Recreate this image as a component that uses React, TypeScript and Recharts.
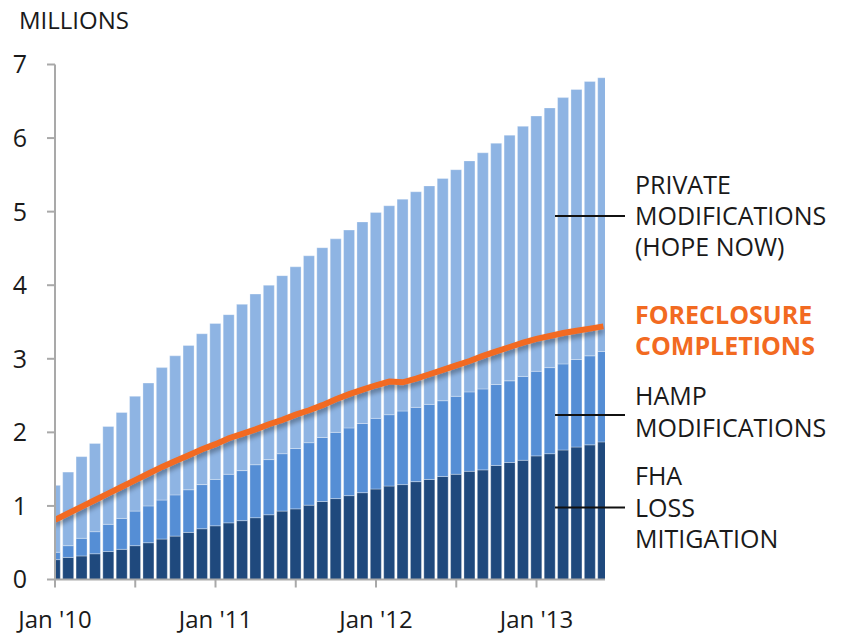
import React from "react";
import { ComposedChart, Bar, Line, XAxis, YAxis } from "recharts";

// monthly, Jan 2010 .. Jun 2013
const months = [
  "Jan '10", "Feb '10", "Mar '10", "Apr '10", "May '10", "Jun '10", "Jul '10", "Aug '10", "Sep '10", "Oct '10", "Nov '10", "Dec '10",
  "Jan '11", "Feb '11", "Mar '11", "Apr '11", "May '11", "Jun '11", "Jul '11", "Aug '11", "Sep '11", "Oct '11", "Nov '11", "Dec '11",
  "Jan '12", "Feb '12", "Mar '12", "Apr '12", "May '12", "Jun '12", "Jul '12", "Aug '12", "Sep '12", "Oct '12", "Nov '12", "Dec '12",
  "Jan '13", "Feb '13", "Mar '13", "Apr '13", "May '13", "Jun '13",
];

const fha = [
  0.27, 0.3, 0.32, 0.35, 0.38, 0.41, 0.46, 0.5, 0.55, 0.59, 0.64, 0.69,
  0.73, 0.77, 0.8, 0.84, 0.88, 0.93, 0.96, 1.01, 1.06, 1.1, 1.14, 1.18,
  1.23, 1.27, 1.29, 1.33, 1.36, 1.4, 1.43, 1.47, 1.49, 1.55, 1.59, 1.62,
  1.68, 1.71, 1.76, 1.8, 1.83, 1.87,
];

const hamp = [
  0.1, 0.16, 0.24, 0.3, 0.37, 0.42, 0.47, 0.5, 0.53, 0.56, 0.58, 0.6,
  0.63, 0.66, 0.68, 0.72, 0.75, 0.78, 0.82, 0.85, 0.87, 0.9, 0.92, 0.94,
  0.96, 0.97, 1.0, 1.01, 1.02, 1.03, 1.06, 1.08, 1.1, 1.1, 1.11, 1.14,
  1.15, 1.17, 1.17, 1.19, 1.21, 1.23,
];

const privateMods = [
  0.91, 1.0, 1.11, 1.2, 1.33, 1.44, 1.56, 1.67, 1.8, 1.89, 1.96, 2.05,
  2.12, 2.17, 2.26, 2.32, 2.37, 2.42, 2.47, 2.54, 2.58, 2.63, 2.69, 2.74,
  2.8, 2.84, 2.88, 2.93, 2.97, 3.02, 3.08, 3.14, 3.21, 3.28, 3.34, 3.4,
  3.47, 3.53, 3.62, 3.67, 3.73, 3.72,
];

const foreclosures = [
  0.81, 0.9, 0.99, 1.08, 1.17, 1.26, 1.35, 1.44, 1.53, 1.61, 1.69, 1.77,
  1.84, 1.92, 1.98, 2.04, 2.11, 2.17, 2.24, 2.3, 2.37, 2.45, 2.52, 2.58,
  2.64, 2.69, 2.68, 2.73, 2.79, 2.85, 2.91, 2.97, 3.04, 3.1, 3.16, 3.22,
  3.27, 3.31, 3.35, 3.38, 3.41, 3.44,
];

const yTicks = [0, 1, 2, 3, 4, 5, 6, 7];
const xTicks = [0, 6, 12, 18, 24, 30, 36];
const xLabels: Record<number, string> = { 0: "Jan '10", 12: "Jan '11", 24: "Jan '12", 36: "Jan '13" };

const data = months.map((m, i) => ({
  i,
  month: m,
  fha: fha[i],
  hamp: hamp[i],
  private: privateMods[i],
  foreclosures: foreclosures[i],
}));

const FONT = "'Open Sans', 'Noto Sans', sans-serif";
const AXIS = "#A9A9A9";
const ORANGE = "#F26A21";

const XTick = (props: any) => {
  const { x, y, payload } = props;
  const label = xLabels[payload.value];
  if (!label) return null;
  return (
    <text x={x} y={y} dy={17} textAnchor="middle" fill="#1a1a1a" fontSize={24} fontFamily={FONT}>
      {label}
    </text>
  );
};

export default function App() {
  const textStyle = { fontFamily: FONT, fontSize: 25, fill: "#1a1a1a" };
  return (
    <div style={{ position: "absolute", left: 0, top: 0, width: 846, height: 637, background: "#fff" }}>
      <ComposedChart
        width={846}
        height={637}
        data={data}
        margin={{ top: 64.5, right: 241, bottom: 0, left: 0 }}
        barGap={0}
      >
        <defs>
          <filter id="lineShadow" x="-10%" y="-30%" width="120%" height="160%">
            <feDropShadow dx="0" dy="4" stdDeviation="2.5" floodColor="#000" floodOpacity="0.35" />
          </filter>
        </defs>
        <XAxis
          dataKey="i"
          type="number"
          domain={[0, 41.12]}
          allowDataOverflow
          ticks={xTicks}
          interval={0}
          height={57.5}
          tickSize={8}
          tickMargin={23}
          stroke={AXIS}
          strokeWidth={2}
          tick={<XTick />}
        />
        <YAxis
          type="number"
          domain={[0, 7]}
          ticks={yTicks}
          width={55}
          tickSize={8}
          tickMargin={20}
          stroke={AXIS}
          strokeWidth={2}
          tick={{ fill: "#1a1a1a", fontSize: 25, fontFamily: FONT }}
        />
        <Bar dataKey="fha" stackId="a" fill="#1F497D" stroke="#ffffff" strokeOpacity={0.3} strokeWidth={1} barSize={11} isAnimationActive={false} />
        <Bar dataKey="hamp" stackId="a" fill="#558ED5" stroke="#ffffff" strokeOpacity={0.3} strokeWidth={1} barSize={11} isAnimationActive={false} />
        <Bar dataKey="private" stackId="a" fill="#8EB4E3" stroke="#ffffff" strokeOpacity={0.3} strokeWidth={1} barSize={11} isAnimationActive={false} />
        <Line
          dataKey="foreclosures"
          type="linear"
          stroke={ORANGE}
          strokeWidth={6}
          dot={false}
          activeDot={false}
          filter="url(#lineShadow)"
          isAnimationActive={false}
        />
      </ComposedChart>

      <svg width={846} height={637} style={{ position: "absolute", left: 0, top: 0, pointerEvents: "none" }}>
        <text x={19} y={29} fontFamily={FONT} fontSize={24} fill="#1a1a1a">MILLIONS</text>

        <line x1={555} x2={625} y1={216} y2={216} stroke="#111" strokeWidth={2} />
        <line x1={555} x2={625} y1={415} y2={415} stroke="#111" strokeWidth={2} />
        <line x1={555} x2={625} y1={507.5} y2={507.5} stroke="#111" strokeWidth={2} />

        <text x={635} y={194} {...textStyle}>PRIVATE</text>
        <text x={635} y={225} {...textStyle}>MODIFICATIONS</text>
        <text x={635} y={256} {...textStyle}>(HOPE NOW)</text>

        <text x={635} y={324} {...textStyle} fill={ORANGE} fontWeight={700}>FORECLOSURE</text>
        <text x={635} y={355} {...textStyle} fill={ORANGE} fontWeight={700}>COMPLETIONS</text>

        <text x={635} y={405} {...textStyle}>HAMP</text>
        <text x={635} y={437} {...textStyle}>MODIFICATIONS</text>

        <text x={635} y={485} {...textStyle}>FHA</text>
        <text x={635} y={517} {...textStyle}>LOSS</text>
        <text x={635} y={548} {...textStyle}>MITIGATION</text>
      </svg>
    </div>
  );
}
